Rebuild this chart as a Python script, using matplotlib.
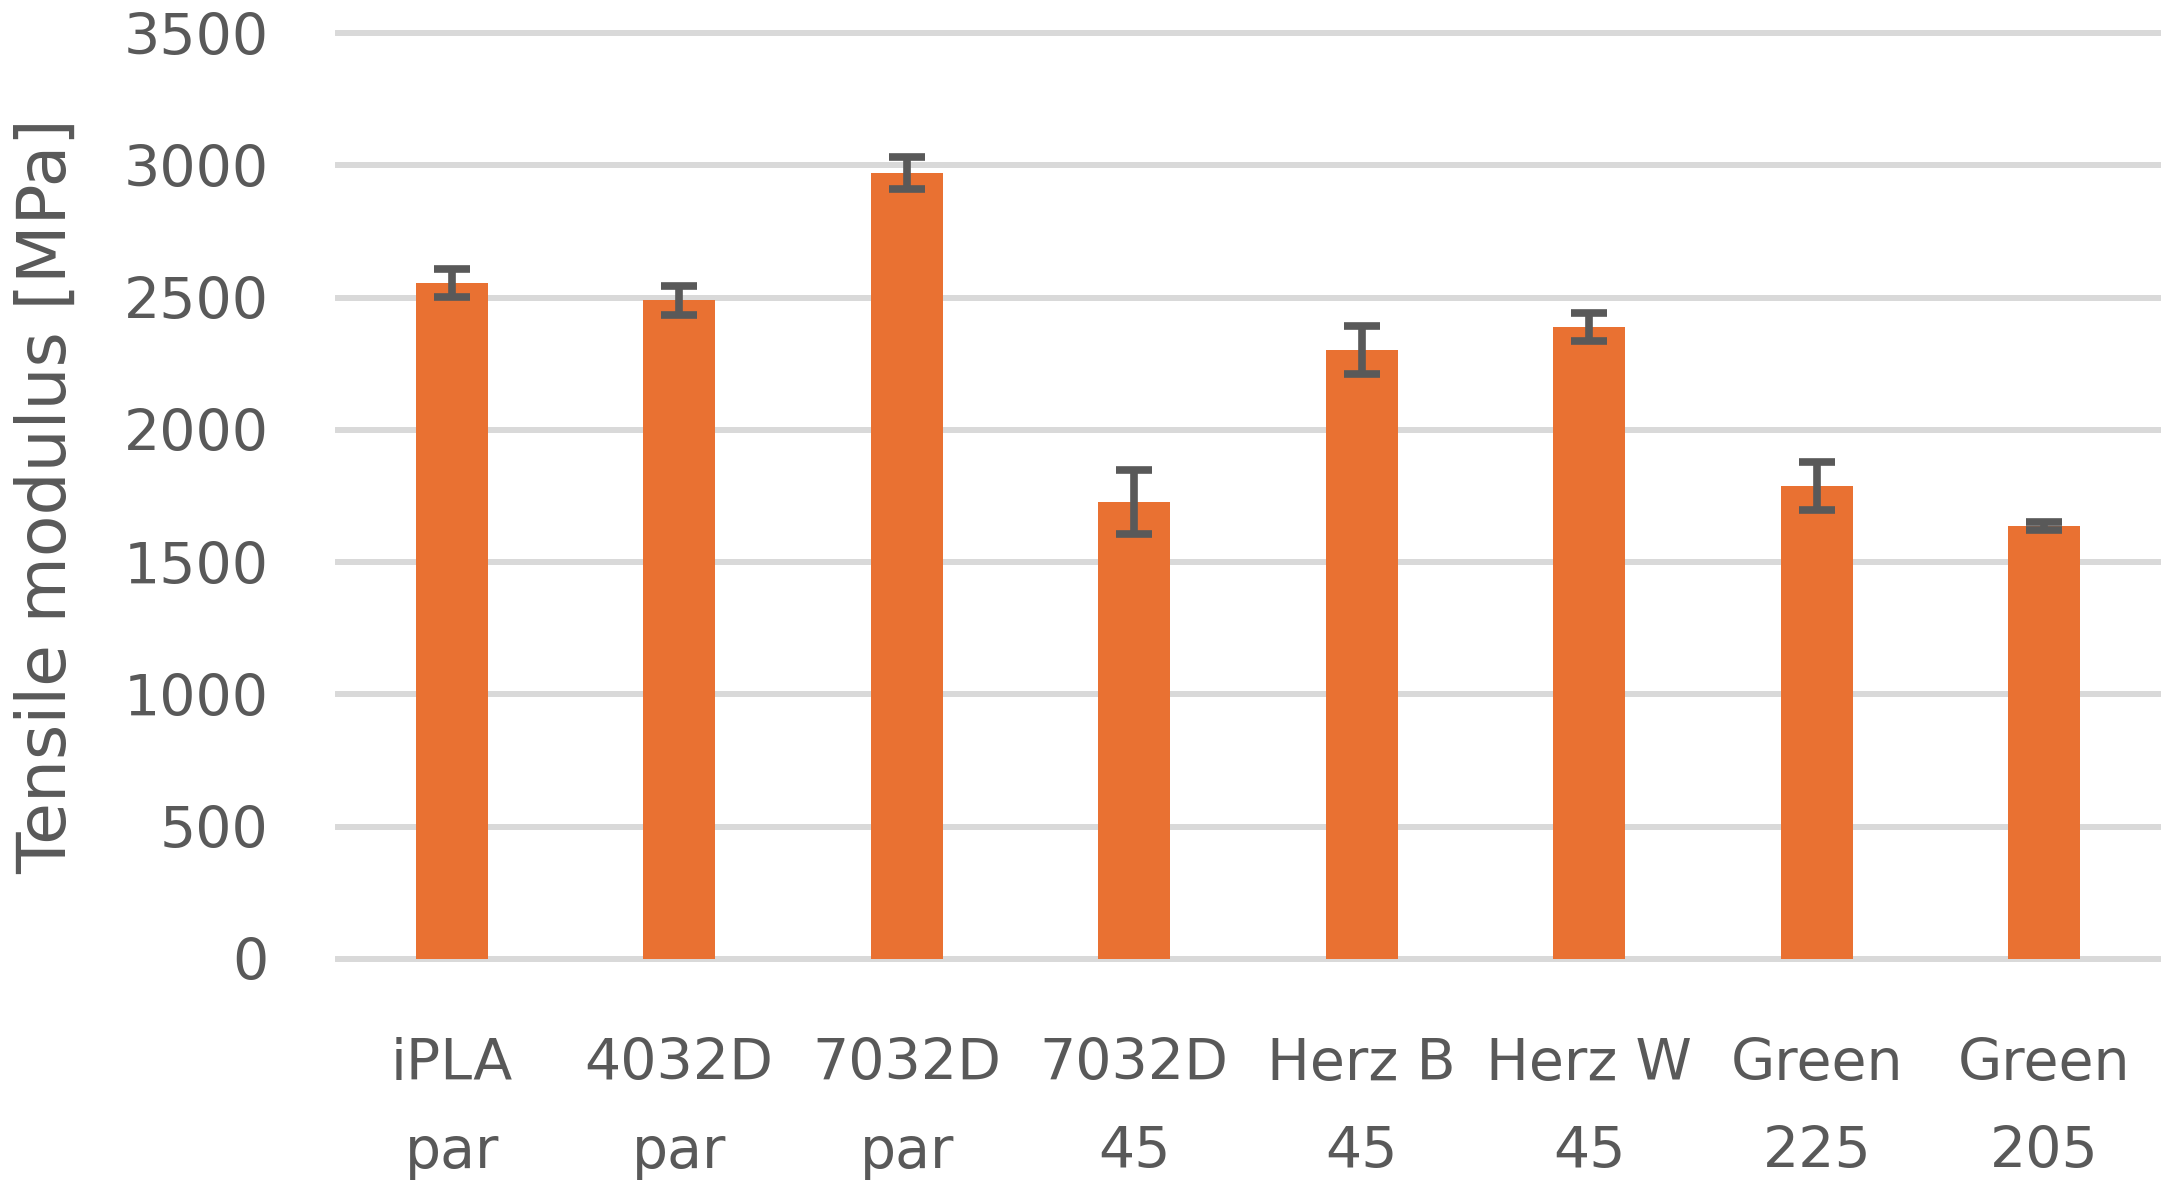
import matplotlib
matplotlib.use("Agg")
import matplotlib.pyplot as plt

# 拉伸模量数据 (MPa)
categories = ["iPLA\npar", "4032D\npar", "7032D\npar", "7032D\n45",
              "Herz B\n45", "Herz W\n45", "Green\n225", "Green\n205"]
values = [2555, 2490, 2970, 1727, 2302, 2390, 1788, 1635]
errors = [52, 55, 60, 120, 92, 53, 90, 15]
yticks = [0, 500, 1000, 1500, 2000, 2500, 3000, 3500]

text_color = "#595959"
plt.rcParams['font.family'] = ['DejaVu Sans']

fig = plt.figure(figsize=(21.79, 11.96), dpi=100)
ax = fig.add_axes([0.1551, 0.1982, 0.9904 - 0.1551, 0.9724 - 0.1982])

x = list(range(len(categories)))
ax.bar(x, values, width=0.316, color="#E97132", zorder=2)
ax.errorbar(x, values, yerr=errors, fmt="none", ecolor="#595959",
            elinewidth=5.5, capsize=13, capthick=5.5, zorder=3)

ax.set_xlim(-0.5, len(categories) - 0.5)
ax.set_ylim(0, 3500)
ax.set_yticks(yticks)
ax.set_xticks(x)
ax.set_xticklabels(categories, linespacing=1.78)

# 网格线
for yv in yticks:
    ax.axhline(yv, color="#D9D9D9", linewidth=4.3, zorder=1, clip_on=False)

for s in ax.spines.values():
    s.set_visible(False)
ax.tick_params(axis="both", length=0, labelsize=41, colors=text_color)
ax.tick_params(axis="y", pad=50)
ax.tick_params(axis="x", pad=56)

ax.set_ylabel("Tensile modulus [MPa]", fontsize=49, color=text_color)
ax.yaxis.set_label_coords(-0.142, 0.5)

fig.savefig("out.png", dpi=100)
